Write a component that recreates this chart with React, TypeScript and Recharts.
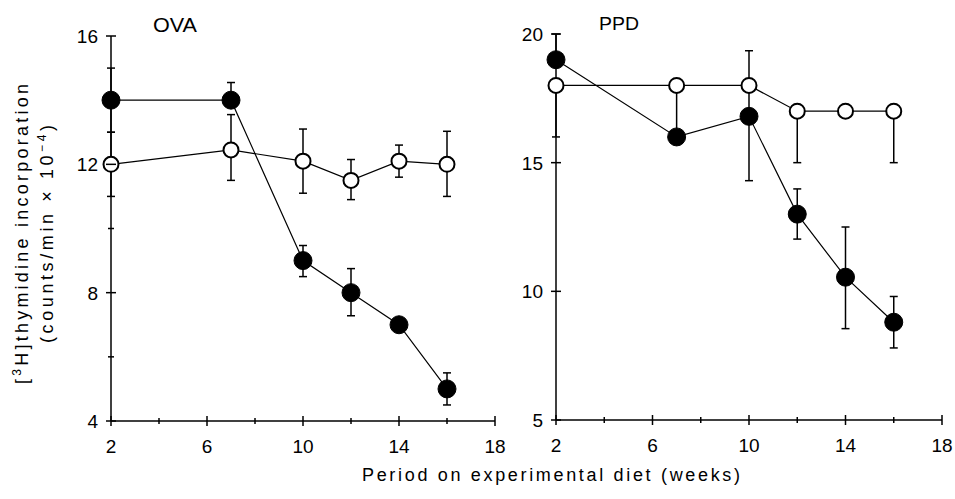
import React from 'react';
import { LineChart, Line, XAxis, YAxis, ErrorBar } from 'recharts';

const FONT = '"Liberation Sans", Arial, Helvetica, sans-serif';

// weeks on diet
const weeks = [2, 7, 10, 12, 14, 16];

// OVA panel
const ovaControl = [12, 12.45, 12.1, 11.5, 12.1, 12.0];
const ovaControlErr = [[1, 1], [0.95, 1.1], [1.0, 1.0], [0.6, 0.65], [0.5, 0.5], [1.0, 1.03]];
const ovaDeficient = [14, 14, 9, 8, 7, 5];
const ovaDeficientErr = [[1, 1], [0, 0.55], [0.5, 0.47], [0.72, 0.75], [0, 0], [0.5, 0.5]];

// PPD panel
const ppdControl = [18, 18, 18, 17, 17, 17];
const ppdControlErr = [[2, 0], [2, 0], [0, 1.35], [2, 0], [0, 0], [2, 0]];
const ppdDeficient = [19, 16, 16.8, 13, 10.55, 8.8];
const ppdDeficientErr = [[0, 1], [0, 0], [2.5, 1.2], [0.97, 0.98], [2.0, 1.95], [1.0, 1.0]];

// axis ticks
const xTicks = [2, 4, 6, 8, 10, 12, 14, 16, 18];
const xMajor = [2, 6, 10, 14, 18];
const ovaYTicks = [4, 6, 8, 10, 12, 14, 16];
const ovaYMajor = [4, 8, 12, 16];
const ppdYTicks = [5, 10, 15, 20];
const ppdYMajor = [5, 10, 15, 20];

const build = (c: number[], ce: number[][], d: number[], de: number[][]) =>
  weeks.map((w, i) => ({ week: w, control: c[i], controlErr: ce[i], deficient: d[i], deficientErr: de[i] }));

const ovaData = build(ovaControl, ovaControlErr, ovaDeficient, ovaDeficientErr);
const ppdData = build(ppdControl, ppdControlErr, ppdDeficient, ppdDeficientErr);

const makeXTick = (majors: number[]) => (props: any) => {
  const { x, y, payload } = props;
  const v = payload.value;
  const major = majors.includes(v);
  const h = major ? 5 : 3;
  return (
    <g>
      <line x1={x} x2={x} y1={y - h} y2={y + h} stroke="#000" strokeWidth={1.5} />
      {major && (
        <text x={x} y={y + 32} textAnchor="middle" fontSize={19} fontFamily={FONT} fill="#000">
          {v}
        </text>
      )}
    </g>
  );
};

const makeYTick = (majors: number[]) => (props: any) => {
  const { x, y, payload } = props;
  const v = payload.value;
  const major = majors.includes(v);
  const h = major ? 5 : 3;
  return (
    <g>
      <line x1={x - h} x2={x + h} y1={y} y2={y} stroke="#000" strokeWidth={1.5} />
      {major && (
        <text x={x - 13} y={y + 7} textAnchor="end" fontSize={19} fontFamily={FONT} fill="#000">
          {v}
        </text>
      )}
    </g>
  );
};

const Panel = ({ data, yDomain, yTicks, yMajor, margin, width }: any) => (
  <LineChart width={width} height={460} data={data} margin={margin}>
    <XAxis
      dataKey="week"
      type="number"
      domain={[2, 18]}
      ticks={xTicks}
      interval={0}
      height={30}
      tickSize={0}
      tickMargin={0}
      tickLine={false}
      axisLine={{ stroke: '#000', strokeWidth: 1.5 }}
      tick={makeXTick(xMajor)}
    />
    <YAxis
      type="number"
      domain={yDomain}
      ticks={yTicks}
      interval={0}
      width={40}
      tickSize={0}
      tickMargin={0}
      tickLine={false}
      axisLine={{ stroke: '#000', strokeWidth: 1.5 }}
      tick={makeYTick(yMajor)}
    />
    <Line
      dataKey="control"
      type="linear"
      stroke="#000"
      strokeWidth={1.2}
      isAnimationActive={false}
      activeDot={false}
      dot={{ r: 7.5, fill: '#fff', stroke: '#000', strokeWidth: 2 }}
    >
      <ErrorBar dataKey="controlErr" direction="y" width={4} stroke="#000" strokeWidth={1.5} />
    </Line>
    <Line
      dataKey="deficient"
      type="linear"
      stroke="#000"
      strokeWidth={1.2}
      isAnimationActive={false}
      activeDot={false}
      dot={{ r: 9, fill: '#000', stroke: '#000', strokeWidth: 1 }}
    >
      <ErrorBar dataKey="deficientErr" direction="y" width={4} stroke="#000" strokeWidth={1.5} />
    </Line>
  </LineChart>
);

export default function App() {
  return (
    <div style={{ position: 'absolute', left: 0, top: 0, width: 955, height: 499, background: '#fff', overflow: 'hidden' }}>
      <div style={{ position: 'absolute', left: 0, top: 0 }}>
        <Panel
          data={ovaData}
          width={520}
          yDomain={[4, 16]}
          yTicks={ovaYTicks}
          yMajor={ovaYMajor}
          margin={{ top: 36, right: 25, bottom: 9, left: 71 }}
        />
      </div>
      <div style={{ position: 'absolute', left: 480, top: 0 }}>
        <Panel
          data={ppdData}
          width={475}
          yDomain={[5, 20]}
          yTicks={ppdYTicks}
          yMajor={ppdYMajor}
          margin={{ top: 34, right: 13, bottom: 10, left: 36 }}
        />
      </div>
      <svg
        width={955}
        height={499}
        style={{ position: 'absolute', left: 0, top: 0, pointerEvents: 'none' }}
      >
        <text x={153} y={32} fontSize={20} fontFamily={FONT} fill="#000" textLength={44} lengthAdjust="spacingAndGlyphs">OVA</text>
        <text x={599} y={30} fontSize={19} fontFamily={FONT} fill="#000" textLength={40} lengthAdjust="spacingAndGlyphs">PPD</text>
        <text
          transform="translate(28,234) rotate(-90)"
          textAnchor="middle"
          fontSize={18}
          fontFamily={FONT}
          fill="#000"
          textLength={300}
          lengthAdjust="spacing"
        >
          [<tspan dy={-7} fontSize={12}>3</tspan><tspan dy={7}>H]thymidine incorporation</tspan>
        </text>
        <text
          transform="translate(53,234) rotate(-90)"
          textAnchor="middle"
          fontSize={18}
          fontFamily={FONT}
          fill="#000"
          textLength={218}
          lengthAdjust="spacing"
        >
          (counts/min × 10<tspan dy={-7} fontSize={12}>−4</tspan><tspan dy={7}>)</tspan>
        </text>
        <text
          x={551}
          y={481}
          textAnchor="middle"
          fontSize={18}
          fontFamily={FONT}
          fill="#000"
          textLength={378}
          lengthAdjust="spacing"
        >
          Period on experimental diet (weeks)
        </text>
      </svg>
    </div>
  );
}
